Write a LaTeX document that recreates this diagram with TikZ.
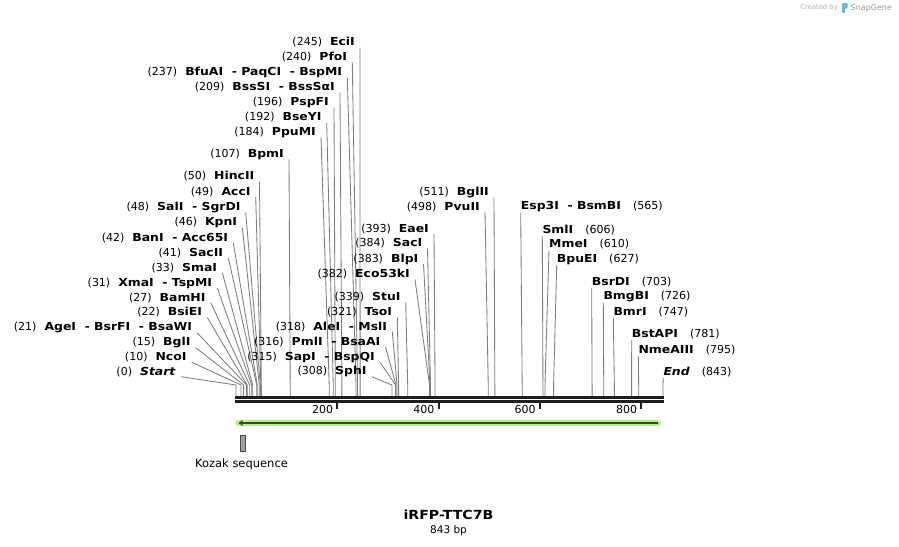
\documentclass[tikz,border=0pt]{standalone}
\usepackage{fontspec}
\setmainfont{DejaVu Sans}[BoldFeatures={FakeStretch=1.13},BoldItalicFeatures={FakeStretch=1.13}]
\usetikzlibrary{arrows.meta}
\definecolor{cutgray}{RGB}{125,125,125}
\definecolor{barblack}{RGB}{30,30,30}
\definecolor{featgreen}{RGB}{180,240,125}
\definecolor{featdark}{RGB}{60,70,50}
\definecolor{kozakgray}{RGB}{160,160,160}
\definecolor{sgblue}{RGB}{90,190,235}
\begin{document}
\begin{tikzpicture}[x=1pt,y=-1pt,
  lbl/.style={inner sep=0pt, font=\fontsize{11}{13}\selectfont},
  cutline/.style={draw=cutgray, line width=0.85pt},
  barline/.style={draw=barblack}]
\useasboundingbox (0,0) rectangle (899,546);
% labels ending at the right, line leaving from their right end
\foreach \id/\x/\y/\num/\txt/\pos in {
 eci/355/42.5/245/EciI/245,
 pfo/347.3/57.5/240/PfoI/240,
 bfu/342.3/72.5/237/{BfuAI\ \ - PaqCI\ \ - BspMI}/237,
 bss/335/87.5/209/{BssSI\ \ - BssSαI}/209,
 psp/329/102.5/196/PspFI/196,
 bse/321.7/117.5/192/BseYI/192,
 ppu/316/132.3/184/PpuMI/184,
 bpm/284/154.3/107/BpmI/107,
 hinc/254.5/176.5/50/HincII/50,
 acc/250.7/191.7/49/AccI/49,
 sal/240.7/207.3/48/{SalI\ \ - SgrDI}/48,
 kpn/237.3/222.5/46/KpnI/46,
 ban/228.3/238/42/{BanI\ \ - Acc65I}/42,
 sactwo/223.3/252.7/41/SacII/41,
 sma/217.3/267.7/33/SmaI/33,
 xma/212.3/283/31/{XmaI\ \ - TspMI}/31,
 bam/205.7/297.7/27/BamHI/27,
 bsie/202.3/312.5/22/BsiEI/22,
 age/192.3/328/21/{AgeI\ \ - BsrFI\ \ - BsaWI}/21,
 bglone/190.7/342.7/15/BglI/15,
 nco/186.7/357.3/10/NcoI/10,
 start/176/371.7/0/{\textit{Start}}/0,
 eae/429/229/393/EaeI/393,
 sac/422.5/243.5/384/SacI/384,
 blp/418.5/259/383/BlpI/383,
 eco/410/274.3/382/Eco53kI/382,
 stu/400.7/297/339/StuI/339,
 tso/392.3/312.3/321/TsoI/321,
 ale/387.3/326.7/318/{AleI\ \ - MslI}/318,
 pml/380.5/342/316/{PmlI\ \ - BsaAI}/316,
 sap/375/357.3/315/{SapI\ \ - BspQI}/315,
 sph/366.7/371.7/308/SphI/308,
 bgltwo/489/192.3/511/BglII/511,
 pvu/480/206.7/498/PvuII/498}
{
  \pgfmathsetmacro\cx{236+\pos*0.5065}
  \pgfmathsetmacro\dx{min(\cx-\x,5)}
  \node[lbl, anchor=east] (\id) at (\x,\y) {(\num)\hspace{8pt}\textbf{\txt}};
  \coordinate (\id-k) at (\cx,385);
  \coordinate (\id-c) at (\cx,396);
  \draw[cutline] ([shift={(\dx,5)}]\id.east) -- (\id-k) -- (\id-c);
}
% labels starting at the left, line leaving from their left end
\foreach \id/\x/\y/\num/\txt in {
 esp/520.7/206.7/565/{Esp3I\ \ - BsmBI},
 sml/542.3/230/606/SmlI,
 mme/549/244.3/610/MmeI,
 bpu/556.7/259/627/BpuEI,
 bsrd/591.7/281.7/703/BsrDI,
 bmg/603.3/296.7/726/BmgBI,
 bmr/613.3/311.7/747/BmrI,
 bsta/631.7/334/781/BstAPI,
 nme/638.3/350/795/NmeAIII,
 end/663.3/371.7/843/{\textit{End}}}
{
  \pgfmathsetmacro\cx{236+\num*0.5065}
  \node[lbl, anchor=west] (\id) at (\x,\y) {\textbf{\txt}\hspace{12pt}(\num)};
  \coordinate (\id-k) at (\cx,385);
  \coordinate (\id-c) at (\cx,396);
  \draw[cutline] ([shift={(0,6)}]\id.west) -- (\id-k) -- (\id-c);
}
% sequence bar
\coordinate (b0) at (235,397.5);
\coordinate (b1) at (664,397.5);
\coordinate (b2) at (235,401.3);
\coordinate (b3) at (664,401.3);
\draw[barline, line width=3pt] (b0) -- (b1);
\draw[barline, line width=2.4pt] (b2) -- (b3);
\foreach \v in {200,400,600,800} {
  \pgfmathsetmacro\tx{236+\v*0.5065}
  \coordinate (t\v a) at (\tx,401);
  \coordinate (t\v b) at (\tx,409);
  \draw[barline, line width=2pt] (t\v a) -- (t\v b);
  \node[lbl, anchor=east] (tl\v) at (\tx-4,409.5) {\v};
}
% feature arrow
\coordinate (fs) at (238.5,423);
\coordinate (fe) at (658,423);
\draw[featgreen, line width=6pt, line cap=round] (fs) -- (fe);
\draw[featdark, line width=1.6pt, -{Stealth[length=4.5pt,width=6pt]}] (fe) -- (fs);
% Kozak
\node[draw=black!70, fill=kozakgray, minimum width=5pt, minimum height=16.5pt, inner sep=0pt, line width=0.8pt] (koz) at (243.2,443.5) {};
\node[lbl, font=\fontsize{11.5}{13}\selectfont] (kozl) at (241.5,464.5) {Kozak sequence};
% title
\node[inner sep=0pt, font=\fontsize{12.5}{14}\selectfont\bfseries] (title) at (448.5,515) {iRFP-TTC7B};
\node[inner sep=0pt, font=\fontsize{10.5}{12}\selectfont] (len) at (448.5,530.5) {843 bp};
% credit
\node[anchor=east, inner sep=0pt, font=\fontsize{6.8}{8}\selectfont, text=black!30] (cr) at (838,8) {Created by};
\fill[sgblue, rounded corners=1pt] (842,3) rectangle (847.5,8.5);
\fill[sgblue] (842,8) rectangle (844.5,13);
\node[anchor=west, inner sep=0pt, font=\fontsize{8}{9}\selectfont, text=black!40] (sg) at (850.5,8) {SnapGene};
\end{tikzpicture}
\end{document}
